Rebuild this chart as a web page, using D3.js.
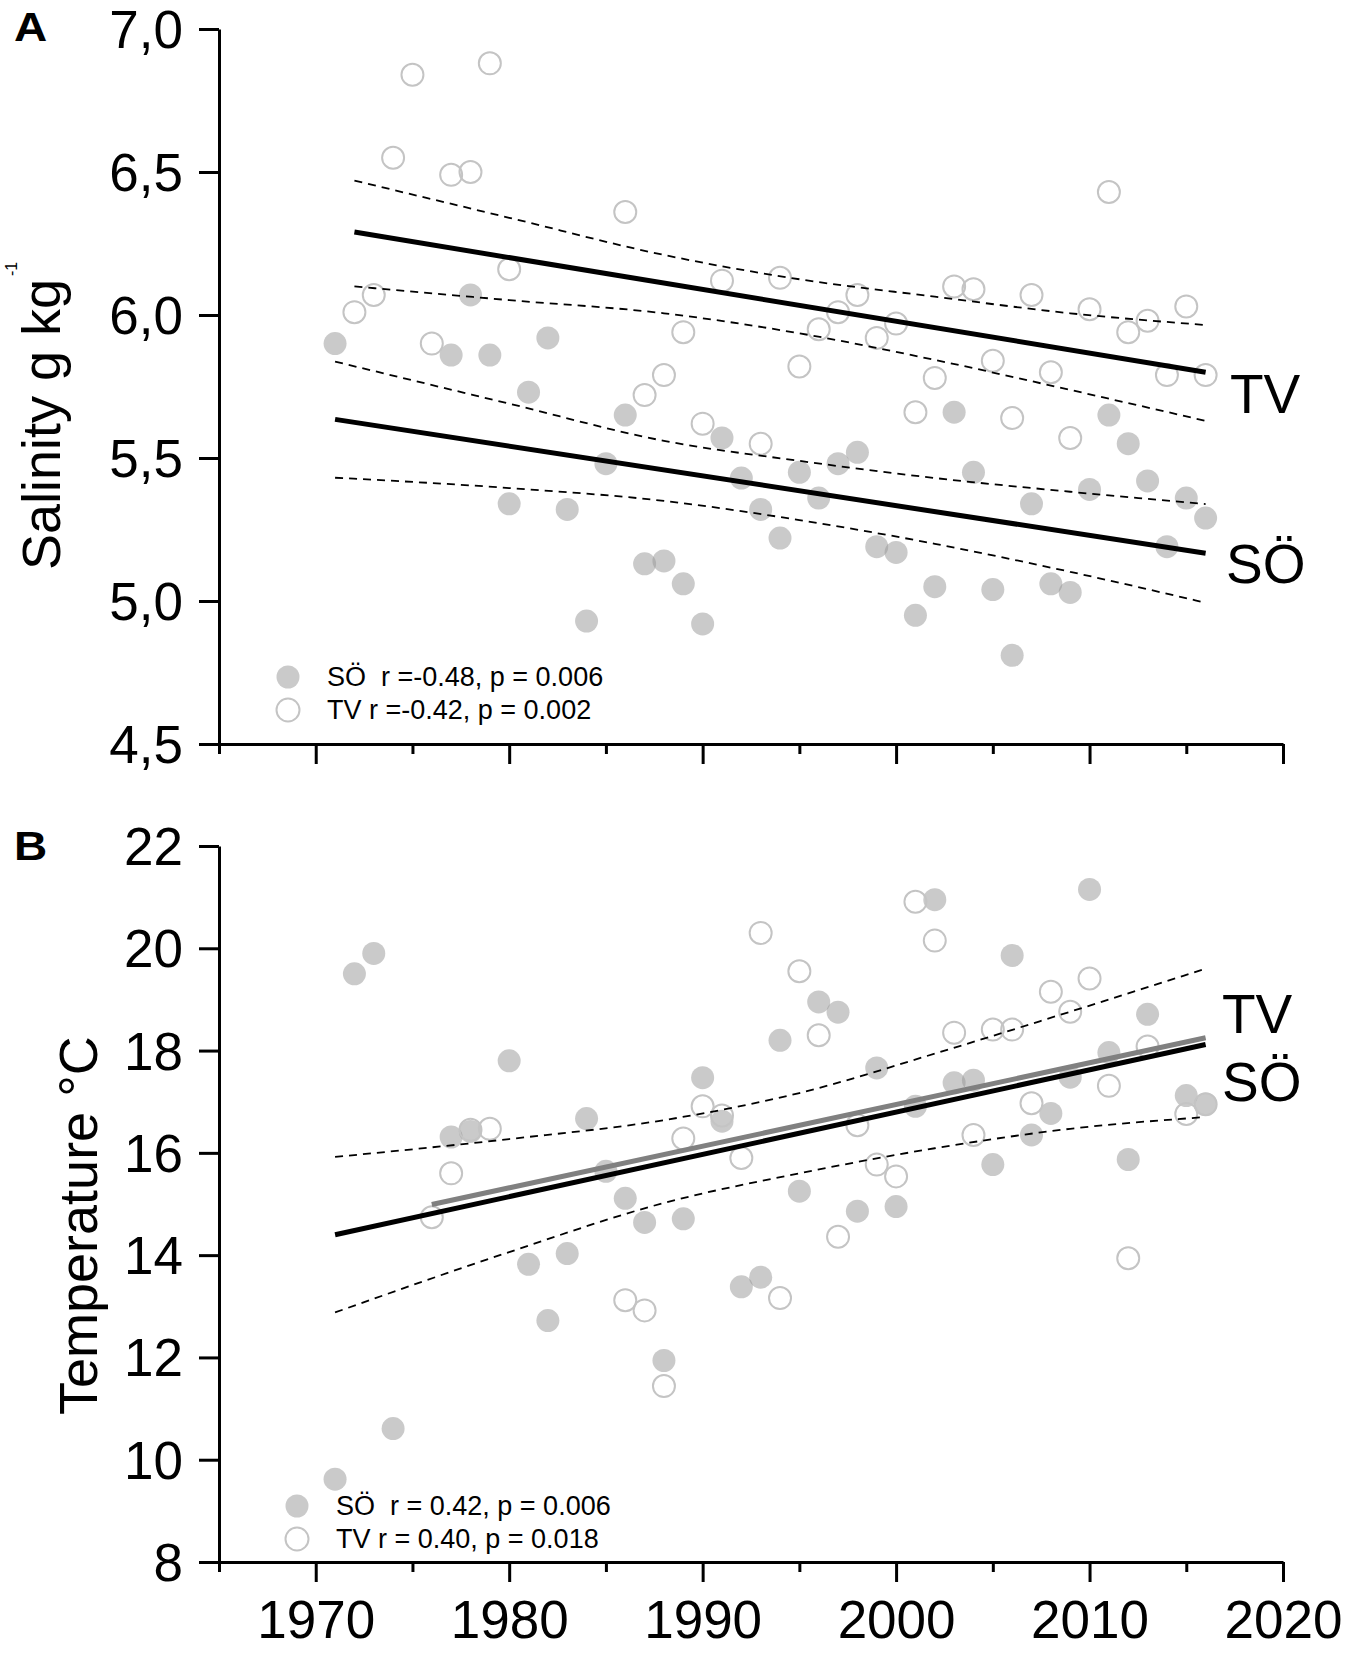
<!DOCTYPE html>
<html lang="en">
<head>
<meta charset="UTF-8">
<title>Salinity and temperature trends</title>
<style>
  body { margin: 0; background: #fff; }
  svg text { font-family: "Liberation Sans", Arial, Helvetica, sans-serif; }
</style>
</head>
<body>
<div id="container"></div>
<script src="https://cdn.jsdelivr.net/npm/d3@7"></script>
<script>
// ---- data: panel A, salinity (g kg-1) ----
const salSOYears = [1971, 1977, 1978, 1979, 1980, 1981, 1982, 1983, 1984, 1985, 1986, 1987, 1988, 1989, 1990,
  1991, 1992, 1993, 1994, 1995, 1996, 1997, 1998, 1999, 2000, 2001, 2002, 2003, 2004, 2005, 2006, 2007, 2008,
  2009, 2010, 2011, 2012, 2013, 2014, 2015, 2016]
const salSOValues = [5.90, 5.86, 6.07, 5.86, 5.34, 5.73, 5.92, 5.32, 4.93, 5.48, 5.65, 5.13, 5.14, 5.06, 4.92,
  5.57, 5.43, 5.32, 5.22, 5.45, 5.36, 5.48, 5.52, 5.19, 5.17, 4.95, 5.05, 5.66, 5.45, 5.04, 4.81, 5.34, 5.06,
  5.03, 5.39, 5.65, 5.55, 5.42, 5.19, 5.36, 5.29]

const salTVYears = [1972, 1973, 1974, 1975, 1976, 1977, 1978, 1979, 1980, 1986, 1987, 1988, 1989, 1990, 1991,
  1993, 1994, 1995, 1996, 1997, 1998, 1999, 2000, 2001, 2002, 2003, 2004, 2005, 2006, 2007, 2008, 2009, 2010,
  2011, 2012, 2013, 2014, 2015, 2016]
const salTVValues = [6.01, 6.07, 6.55, 6.84, 5.90, 6.49, 6.50, 6.88, 6.16, 6.36, 5.72, 5.79, 5.94, 5.62, 6.12,
  5.55, 6.13, 5.82, 5.95, 6.01, 6.07, 5.92, 5.97, 5.66, 5.78, 6.10, 6.09, 5.84, 5.64, 6.07, 5.80, 5.57, 6.02,
  6.43, 5.94, 5.98, 5.79, 6.03, 5.79]

const salTrendTV = [[1972, 6.29], [2016, 5.80]]
const salTrendSO = [[1971, 5.635], [2016, 5.167]]
const salBandTVUpper = [[1972, 6.47], [1980, 6.34], [1988, 6.21], [1995, 6.125], [2002, 6.064], [2009, 6.006], [2016, 5.965]]
const salBandTVLower = [[1972, 6.10], [1980, 6.052], [1988, 6.006], [1995, 5.936], [2002, 5.843], [2009, 5.738], [2016, 5.63]]
const salBandSOUpper = [[1971, 5.837], [1980, 5.69], [1988, 5.56], [1995, 5.49], [2002, 5.43], [2009, 5.382], [2016, 5.339]]
const salBandSOLower = [[1971, 5.431], [1980, 5.395], [1988, 5.35], [1995, 5.283], [2002, 5.20], [2009, 5.102], [2016, 4.994]]

const salTicks = [4.5, 5.0, 5.5, 6.0, 6.5, 7.0]
const salLegend = ['SÖ  r =-0.48, p = 0.006', 'TV r =-0.42, p = 0.002']

// ---- data: panel B, temperature (°C) ----
const tempSOYears = [1971, 1972, 1973, 1974, 1977, 1978, 1980, 1981, 1982, 1983, 1984, 1985, 1986, 1987, 1988,
  1989, 1990, 1991, 1992, 1993, 1994, 1995, 1996, 1997, 1998, 1999, 2000, 2001, 2002, 2003, 2004, 2005, 2006,
  2007, 2008, 2009, 2010, 2011, 2012, 2013, 2015, 2016]
const tempSOValues = [9.62, 19.5, 19.9, 10.61, 16.31, 16.42, 17.8, 13.82, 12.72, 14.03, 16.67, 15.64, 15.11, 14.64, 11.94,
  14.71, 17.47, 16.62, 13.38, 13.57, 18.2, 15.25, 18.95, 18.75, 14.86, 17.66, 14.95, 16.91, 20.95, 17.37, 17.42, 15.77, 19.86,
  16.35, 16.77, 17.48, 21.15, 17.96, 15.87, 18.71, 17.12, 16.95]

const tempTVYears = [1976, 1977, 1978, 1979, 1986, 1987, 1988, 1989, 1990, 1991, 1992, 1993, 1994, 1995, 1996,
  1997, 1998, 1999, 2000, 2001, 2002, 2003, 2004, 2005, 2006, 2007, 2008, 2009, 2010, 2011, 2012, 2013, 2015, 2016]
const tempTVValues = [14.74, 15.6, 16.45, 16.47, 13.12, 12.92, 11.44, 16.28, 16.91, 16.73, 15.9, 20.3, 13.16, 19.55, 18.3,
  14.36, 16.54, 15.77, 15.54, 20.91, 20.15, 18.35, 16.35, 18.41, 18.41, 16.97, 19.15, 18.76, 19.41, 17.31, 13.94, 18.08, 16.76, 16.95]

const tempTrendSO = [[1971, 14.40], [2016, 18.12]]
const tempTrendTV = [[1976, 14.99], [2016, 18.25]]
const tempBandUpper = [[1971, 15.92], [1980, 16.27], [1988, 16.64], [1995, 17.17], [2002, 17.94], [2009, 18.76], [2016, 19.6]]
const tempBandLower = [[1971, 12.88], [1980, 14.06], [1988, 15.02], [1995, 15.6], [2002, 16.09], [2009, 16.47], [2016, 16.7]]

const tempTicks = [8, 10, 12, 14, 16, 18, 20, 22]
const tempLegend = ['SÖ  r = 0.42, p = 0.006', 'TV r = 0.40, p = 0.018']

const yearMajor = [1970, 1980, 1990, 2000, 2010, 2020]
const yearMinor = [1965, 1975, 1985, 1995, 2005, 2015]

// ---- layout ----
const width = 1354
const height = 1653
const pointR = 11.5
const fillGray = 'rgb(150,150,150)'
const strokeGray = '#c4c4c4'

const svg = d3.select('#container').append('svg')
    .attr('width', width)
    .attr('height', height)

const x = d3.scaleLinear().domain([1965, 2020]).range([219, 1283])
const ySal = d3.scaleLinear().domain([4.5, 7]).range([744, 29])
const yTemp = d3.scaleLinear().domain([8, 22]).range([1562, 846])

const commaFmt = v => d3.format('.1f')(v).replace('.', ',')

function styleAxis(g) {
    g.selectAll('path, line').attr('stroke', '#000').attr('stroke-width', 3)
    g.selectAll('text').attr('font-size', '53px').attr('fill', '#000')
        .attr('font-family', '"Liberation Sans", Arial, sans-serif')
}

function drawPanel(cfg) {
    const y = cfg.y
    const g = svg.append('g').attr('class', cfg.id)

    // points: SÖ filled, TV open
    g.append('g').selectAll('circle')
        .data(d3.zip(cfg.soYears, cfg.soValues))
        .enter().append('circle')
        .attr('cx', d => x(d[0]))
        .attr('cy', d => y(d[1]))
        .attr('r', pointR)
        .attr('fill', fillGray)
        .attr('fill-opacity', 0.5)

    g.append('g').selectAll('circle')
        .data(d3.zip(cfg.tvYears, cfg.tvValues))
        .enter().append('circle')
        .attr('cx', d => x(d[0]))
        .attr('cy', d => y(d[1]))
        .attr('r', pointR - 0.5)
        .attr('fill', 'none')
        .attr('stroke', strokeGray)
        .attr('stroke-width', 2)

    // confidence bands
    const bandGen = d3.line().x(p => x(p[0])).y(p => y(p[1])).curve(d3.curveMonotoneX)
    g.append('g').selectAll('path')
        .data(cfg.bands)
        .enter().append('path')
        .attr('d', bandGen)
        .attr('fill', 'none')
        .attr('stroke', '#000')
        .attr('stroke-width', 1.8)
        .attr('stroke-dasharray', '8,6')

    // regression lines
    const lineGen = d3.line().x(p => x(p[0])).y(p => y(p[1]))
    g.append('g').selectAll('path')
        .data(cfg.trends)
        .enter().append('path')
        .attr('d', d => lineGen(d.pts))
        .attr('fill', 'none')
        .attr('stroke', d => d.color)
        .attr('stroke-width', 5)

    // axes
    const yAxis = d3.axisLeft(y).tickValues(cfg.ticks).tickFormat(cfg.fmt)
        .tickSize(20).tickSizeOuter(0).tickPadding(16)
    const yG = g.append('g').attr('transform', `translate(${x(1965)},0)`).call(yAxis).call(styleAxis)
    yG.selectAll('.tick text').attr('dy', '0.35em')

    const xAxis = d3.axisBottom(x).tickValues(yearMajor).tickFormat(cfg.showYears ? d3.format('d') : '')
        .tickSize(20).tickSizeOuter(0).tickPadding(18)
    g.append('g').attr('transform', `translate(0,${y.range()[0]})`).call(xAxis).call(styleAxis)

    const xMinor = d3.axisBottom(x).tickValues(yearMinor).tickFormat('').tickSize(10).tickSizeOuter(0)
    const minorG = g.append('g').attr('transform', `translate(0,${y.range()[0]})`).call(xMinor).call(styleAxis)
    minorG.select('.domain').remove()

    // y title
    g.append('text')
        .attr('transform', `translate(${cfg.titlePos[0]},${cfg.titlePos[1]}) rotate(-90)`)
        .attr('font-size', '54px')
        .text(cfg.title)
    if (cfg.titleSup) {
        g.append('text')
            .attr('transform', `translate(${cfg.supPos[0]},${cfg.supPos[1]}) rotate(-90)`)
            .attr('font-size', '16px')
            .text(cfg.titleSup)
    }

    // panel letter
    g.append('text')
        .attr('transform', `translate(14,${cfg.letterY}) scale(1.15,1)`)
        .attr('font-size', '40px')
        .attr('font-weight', 'bold')
        .text(cfg.letter)

    // series labels at line ends
    cfg.endLabels.forEach(l => {
        g.append('text')
            .attr('x', l.x).attr('y', l.y)
            .attr('font-size', '55px')
            .text(l.text)
    })

    // legend
    cfg.legend.forEach((txt, i) => {
        const cy = cfg.legendPos[1] + i * 33
        g.append('circle')
            .attr('cx', cfg.legendPos[0]).attr('cy', cy)
            .attr('r', pointR)
            .attr('fill', i === 0 ? fillGray : 'none')
            .attr('fill-opacity', i === 0 ? 0.5 : null)
            .attr('stroke', i === 0 ? 'none' : strokeGray)
            .attr('stroke-width', 2)
        g.append('text')
            .attr('x', cfg.legendPos[0] + 39).attr('y', cy + 9)
            .attr('font-size', '27px')
            .style('white-space', 'pre')
            .text(txt)
    })
}

drawPanel({
    id: 'panel-a',
    y: ySal,
    ticks: salTicks,
    fmt: commaFmt,
    soYears: salSOYears, soValues: salSOValues,
    tvYears: salTVYears, tvValues: salTVValues,
    bands: [salBandTVUpper, salBandTVLower, salBandSOUpper, salBandSOLower],
    trends: [{pts: salTrendTV, color: '#000'}, {pts: salTrendSO, color: '#000'}],
    showYears: false,
    title: 'Salinity g kg',
    titleSup: '-1',
    titlePos: [60, 570],
    supPos: [17, 276],
    letter: 'A',
    letterY: 41,
    endLabels: [{text: 'TV', x: 1230, y: 413}, {text: 'SÖ', x: 1226, y: 583}],
    legend: salLegend,
    legendPos: [288, 677]
})

drawPanel({
    id: 'panel-b',
    y: yTemp,
    ticks: tempTicks,
    fmt: d3.format('d'),
    soYears: tempSOYears, soValues: tempSOValues,
    tvYears: tempTVYears, tvValues: tempTVValues,
    bands: [tempBandUpper, tempBandLower],
    trends: [{pts: tempTrendSO, color: '#000'}, {pts: tempTrendTV, color: '#808080'}],
    showYears: true,
    title: 'Temperature °C',
    titleSup: null,
    titlePos: [97, 1415],
    letter: 'B',
    letterY: 860,
    endLabels: [{text: 'TV', x: 1222, y: 1033}, {text: 'SÖ', x: 1222, y: 1101}],
    legend: tempLegend,
    legendPos: [297, 1506]
})
</script>
</body>
</html>
